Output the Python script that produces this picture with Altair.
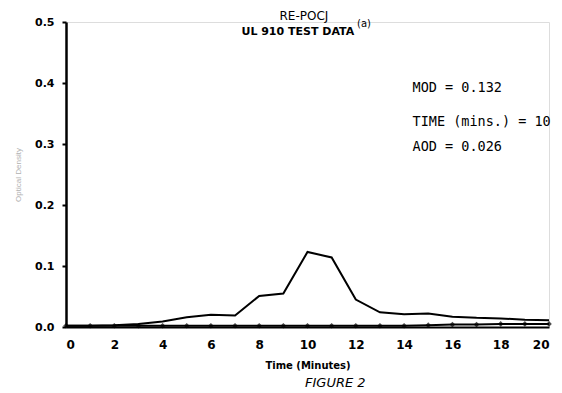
import altair as alt
import pandas as pd

# Data
time_min = list(range(0, 21))
sample_od = [0.002, 0.002, 0.003, 0.005, 0.009, 0.016, 0.020, 0.019, 0.051, 0.055,
             0.123, 0.114, 0.045, 0.024, 0.021, 0.022, 0.017, 0.015, 0.014, 0.012, 0.011]
baseline_od = [0.002, 0.002, 0.002, 0.002, 0.002, 0.002, 0.002, 0.002, 0.002, 0.002,
               0.002, 0.002, 0.002, 0.002, 0.002, 0.003, 0.004, 0.004, 0.005, 0.005, 0.005]

x_ticks = list(range(0, 21, 2))
y_ticks = [0.0, 0.1, 0.2, 0.3, 0.4, 0.5]

ann_text = ["RE-POCJ", "UL 910 TEST DATA", "(a)", "MOD = 0.132", "TIME (mins.) = 10", "AOD = 0.026", "FIGURE 2"]
ann_x = [9.85, 9.6, 12.05, 14.35, 14.35, 14.35, 11.15]
ann_y = [0.510, 0.484, 0.497, 0.392, 0.336, 0.295, -0.092]
ann_align = ["center", "center", "left", "left", "left", "left", "center"]
ann_size = [12, 11, 10, 13.5, 13.5, 13.5, 13]
ann_weight = ["normal", "bold", "normal", "normal", "normal", "normal", "normal"]
ann_style = ["normal", "normal", "normal", "normal", "normal", "normal", "italic"]
ann_font = ["DejaVu Sans", "DejaVu Sans", "DejaVu Sans", "DejaVu Sans Mono", "DejaVu Sans Mono",
            "DejaVu Sans Mono", "DejaVu Sans"]

df = pd.DataFrame({"t": time_min, "sample": sample_od, "base": baseline_od})
ann = pd.DataFrame({"text": ann_text, "x": ann_x, "y": ann_y})

xs = alt.Scale(domain=[0, 20], nice=False)
ys = alt.Scale(domain=[0, 0.5], nice=False)

x_axis = alt.Axis(values=x_ticks, format="d", title="Time (Minutes)", grid=False,
                  ticks=False, labelPadding=12, labelFontSize=12, labelFontWeight="bold",
                  titleFontSize=10, titleFontWeight="bold", titlePadding=10,
                  domainColor="black", domainWidth=2, labelColor="black", titleColor="black",
                  labelFont="DejaVu Sans", titleFont="DejaVu Sans")
y_axis = alt.Axis(values=y_ticks, format=".1f", title="Optical Density", grid=False,
                  tickSize=4, tickWidth=2, tickColor="black", labelPadding=8,
                  labelFontSize=11, labelFontWeight="bold", labelColor="black",
                  titleFontSize=8, titleColor="#b0b0b0", titleFontWeight="normal", titlePadding=12,
                  domainColor="black", domainWidth=2.5, labelFont="DejaVu Sans")

base_enc = alt.Chart(df)

sample_line = base_enc.mark_line(color="black", strokeWidth=2).encode(
    x=alt.X("t:Q", scale=xs, axis=x_axis),
    y=alt.Y("sample:Q", scale=ys, axis=y_axis),
)
base_line = base_enc.mark_line(color="black", strokeWidth=2).encode(
    x=alt.X("t:Q", scale=xs), y=alt.Y("base:Q", scale=ys))
base_pts = base_enc.mark_point(shape="diamond", filled=True, color="black", size=32).encode(
    x=alt.X("t:Q", scale=xs), y=alt.Y("base:Q", scale=ys))

texts = []
for i in range(len(ann_text)):
    sub = ann.iloc[[i]]
    texts.append(alt.Chart(sub).mark_text(
        align=ann_align[i], baseline="middle", fontSize=ann_size[i],
        fontWeight=ann_weight[i], fontStyle=ann_style[i], color="black",
        font=ann_font[i], clip=False
    ).encode(x=alt.X("x:Q", scale=xs), y=alt.Y("y:Q", scale=ys), text="text:N"))

chart = alt.layer(sample_line, base_line, base_pts, *texts).properties(
    width=483, height=305,
    autosize=alt.AutoSizeParams(type="none"),
    padding={"left": 58, "top": 14, "right": 5, "bottom": 65},
).configure_view(stroke=None).configure(background="white")

chart.save("out.html", embed_options={"renderer": "svg", "actions": False})
